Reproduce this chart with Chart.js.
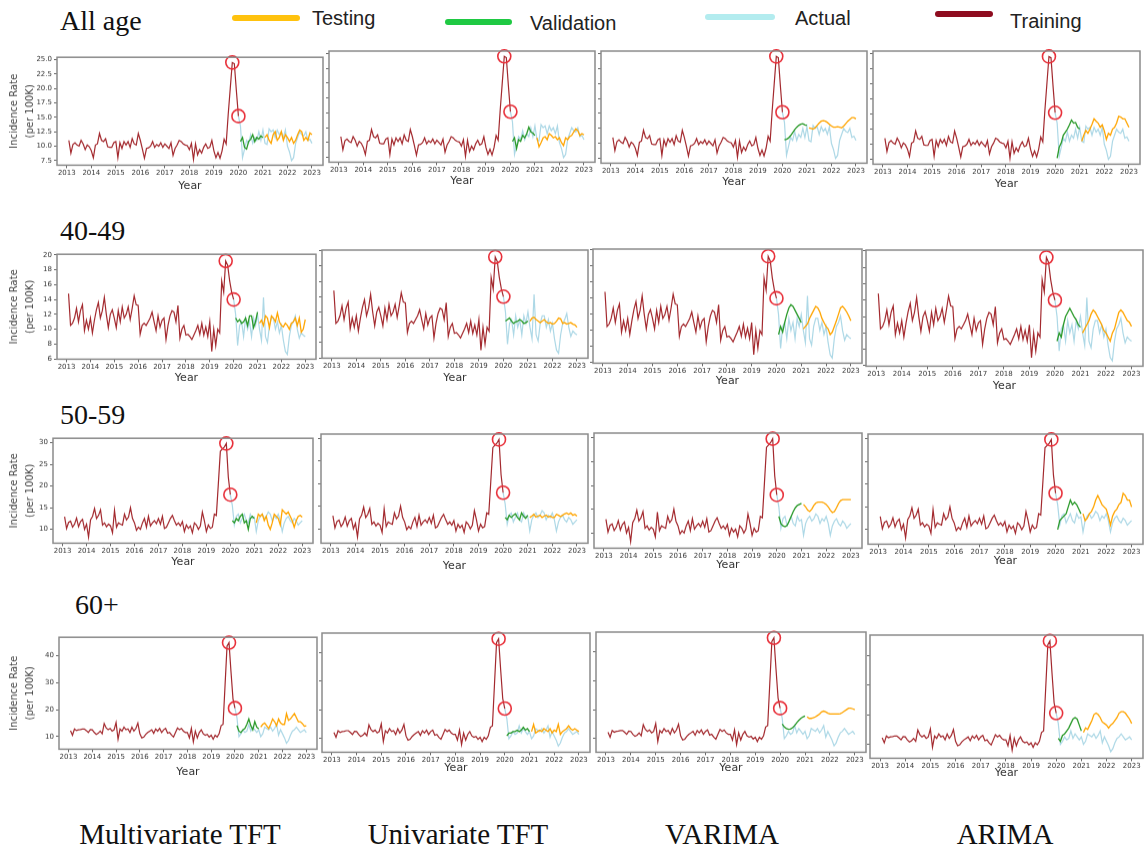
<!DOCTYPE html>
<html><head><meta charset="utf-8">
<script src="https://cdn.jsdelivr.net/npm/chart.js@4.4.1/dist/chart.umd.min.js"></script>
<style>
html,body{margin:0;padding:0;background:#fff;}
body{width:1148px;height:850px;position:relative;overflow:hidden;}
.lbl{position:absolute;font-family:"Liberation Serif","DejaVu Serif",serif;color:#111;white-space:nowrap;line-height:1;}
.leg-line{position:absolute;height:6px;border-radius:3px;}
.leg-txt{position:absolute;font-family:"Liberation Sans",Arial,sans-serif;font-size:20px;color:#222;white-space:nowrap;line-height:1;}
canvas{position:absolute;}
</style></head><body>
<script>
// ---------------- data ----------------
const yearTicks = [2013,2014,2015,2016,2017,2018,2019,2020,2021,2022,2023];
const yTicksAll = [7.5,10,12.5,15,17.5,20,22.5,25];
const yTicks40 = [6,8,10,12,14,16,18,20];
const yTicks50 = [10,15,20,25,30];
const yTicks60 = [10,20,30,40];
const ageGroups = ['All age','40-49','50-59','60+'];
const modelNames = ['Multivariate TFT','Univariate TFT','VARIMA','ARIMA'];
const legendLabels = ['Testing','Validation','Actual','Training'];

// monthly values; training Feb 2013 - Jan 2020, actual Jan 2020 - Jan 2023,
// validation Feb 2020 - Jan 2021, testing Feb 2021 - Jan 2023
const trainAll = [11.0,8.8,10.3,10.6,10.2,10.0,11.0,10.4,9.4,10.2,9.9,
 9.2,8.0,10.2,10.4,12.2,11.0,10.8,11.3,9.9,9.8,9.8,10.6,
 10.8,8.0,10.6,9.6,10.8,10.2,10.8,9.8,11.3,10.4,10.2,12.2,
 11.0,9.5,7.9,9.6,9.7,10.0,10.8,9.8,10.3,10.0,10.6,9.8,
 10.4,10.0,9.6,10.6,8.4,9.6,10.2,11.0,10.8,10.4,10.2,10.1,
 9.4,10.5,7.7,10.4,8.5,9.4,8.8,9.8,10.4,9.6,9.8,11.0,
 9.2,8.0,8.9,7.9,9.2,11.2,10.4,15.5,20.0,24.5,24.3,19.6,
 15.2];
const train40 = [14.8,10.5,10.8,11.5,12.8,11.0,12.5,13.3,9.8,11.2,10.0,
 11.5,9.5,11.2,12.6,13.6,11.5,12.5,14.3,12.0,10.2,12.0,12.6,
 11.5,10.2,12.5,11.0,13.0,11.5,12.0,13.0,11.3,12.8,14.5,13.3,
 13.2,9.3,10.5,10.8,10.5,11.0,11.5,12.3,11.0,9.8,11.8,10.3,
 11.2,11.5,8.6,10.5,11.8,12.5,12.3,11.0,13.2,8.8,10.0,10.5,
 9.2,9.3,9.0,8.6,9.2,9.8,10.5,9.3,10.8,9.2,10.3,9.0,
 11.0,7.0,10.0,7.8,10.0,9.5,16.5,15.0,19.2,18.6,16.5,15.0,
 14.0];
const train50 = [12.9,10.2,11.6,11.9,10.5,11.2,12.6,10.6,11.8,12.3,10.0,
 11.2,8.2,12.2,13.0,14.8,12.5,13.2,14.5,11.0,11.5,10.6,11.2,
 10.8,9.2,14.4,10.5,11.5,11.2,11.0,13.5,12.2,12.8,15.0,12.5,
 11.5,9.8,10.5,10.0,11.5,12.5,10.5,13.0,10.8,11.5,12.0,11.3,
 12.5,11.2,13.0,10.2,10.5,11.5,12.5,13.2,12.0,11.0,11.5,10.8,
 11.8,9.5,11.0,10.2,10.8,9.2,11.5,11.0,10.0,10.8,14.0,12.0,
 9.5,11.0,10.2,10.5,13.5,13.2,20.5,28.0,28.5,29.0,29.8,22.0,
 18.0];
const train60 = [12.2,10.5,12.8,12.2,12.5,12.6,12.8,12.8,12.2,11.5,12.6,
 12.5,11.5,10.8,11.2,12.0,11.0,14.8,13.2,12.5,13.0,12.0,12.5,
 15.2,9.0,12.8,12.0,13.5,12.5,12.8,11.5,13.5,12.0,13.0,15.0,
 11.0,9.5,9.8,10.8,11.5,12.0,12.5,11.2,12.8,12.0,13.0,11.5,
 12.5,13.0,11.2,11.5,10.5,9.8,11.5,13.2,12.5,13.0,12.0,11.5,
 11.5,9.5,13.0,8.0,12.0,9.5,11.5,12.5,11.0,10.5,10.8,9.8,
 10.5,9.0,10.5,9.8,11.0,14.0,14.5,29.0,43.5,44.8,34.0,24.0,
 20.5];

const actualAll = [15.2,13.5,8.0,9.5,11.0,10.5,12.0,10.5,11.5,11.0,12.5,11.0,12.8,
 10.5,10.3,13.0,12.5,12.8,11.5,12.8,12.0,12.5,11.5,12.8,10.0,
 9.0,7.5,8.0,10.5,11.5,12.5,12.0,11.8,12.5,11.0,11.2,10.5];
const actual40 = [14.0,12.0,7.8,10.5,11.0,9.0,11.5,10.0,11.0,9.0,11.5,10.5,12.0,
 10.0,8.5,14.3,9.0,8.2,10.5,11.5,11.5,10.0,11.0,9.5,10.5,
 8.5,7.0,6.6,9.0,10.5,11.0,11.8,10.0,8.8,9.5,9.2,9.0];
const actual50 = [18.0,15.5,11.0,13.0,13.5,11.5,12.5,13.5,12.0,11.5,13.5,12.5,12.8,
 9.5,12.0,13.0,13.5,12.5,13.0,14.0,13.5,12.0,13.0,12.5,13.5,
 12.0,9.5,11.5,12.5,13.0,12.0,11.5,12.5,12.0,11.0,11.5,12.0];
const actual60 = [20.5,17.0,10.0,11.0,12.5,11.5,12.0,14.5,12.0,13.5,12.5,11.5,12.5,
 10.0,11.0,13.5,13.0,12.5,13.5,12.0,13.0,14.5,10.5,12.5,11.0,
 9.5,7.5,8.5,10.5,12.0,12.5,13.5,12.5,11.5,12.0,12.5,11.5];

const valMTFT_All = [10.8,11.5,9.8,9.5,10.8,11.2,12.0,10.8,11.5,11.2,11.8,11.5];
const testMTFT_All = [11.5,12.0,11.0,10.5,12.0,12.5,11.0,11.5,12.5,11.0,12.0,11.5,10.8,11.5,10.5,11.0,12.0,12.8,12.5,11.0,11.5,11.0,12.3,12.0];
const valUTFT_All = [10.2,10.8,9.0,10.5,10.2,11.2,10.8,11.5,12.6,11.8,11.6,11.2];
const testUTFT_All = [10.8,9.3,10.0,10.8,11.0,10.5,11.5,11.2,10.8,11.0,10.5,10.8,10.0,9.5,10.8,10.5,11.0,11.2,11.8,12.3,12.0,11.2,11.5,11.3];
const valVARIMA_All = [10.6,10.7,10.9,11.3,11.8,12.3,12.7,13.0,13.2,13.3,13.1,13.0];
const testVARIMA_All = [12.6,12.5,12.4,12.6,13.0,13.4,13.7,13.8,13.7,13.5,13.2,12.9,12.7,12.7,12.8,12.7,12.6,12.9,13.3,13.7,14.0,14.3,14.3,14.1];
const valARIMA_All = [7.7,9.5,10.2,11.5,12.0,12.5,13.2,14.0,13.5,13.6,12.8,12.5];
const testARIMA_All = [10.5,11.5,12.3,11.8,12.5,13.3,14.2,13.8,13.5,12.8,13.2,12.2,10.8,11.8,11.5,12.5,12.8,13.5,14.6,14.5,14.2,14.2,13.5,12.8];

const valMTFT_40 = [11.5,11.0,11.3,10.8,11.0,11.5,10.5,11.8,11.8,10.2,11.0,12.3];
const testMTFT_40 = [10.8,11.2,10.5,11.8,11.5,10.2,11.8,11.5,11.0,12.2,11.0,10.5,10.3,10.8,10.5,10.0,10.8,11.0,11.5,10.5,11.5,9.6,10.0,11.3];
const valUTFT_40 = [10.8,11.0,11.2,10.8,10.5,10.7,10.8,11.0,10.8,10.5,10.6,10.8];
const testUTFT_40 = [10.8,11.2,11.3,11.0,10.8,10.6,10.8,11.0,10.7,10.5,10.6,10.4,10.5,10.8,11.2,11.1,10.5,10.6,10.4,10.5,10.6,10.4,10.3,10.0];
const valVARIMA_40 = [9.5,10.5,9.8,11.0,12.0,12.8,13.2,13.0,12.5,12.0,11.5,11.0];
const testVARIMA_40 = [10.2,10.5,10.8,11.5,12.0,12.5,13.0,12.8,12.3,11.5,11.0,10.5,10.2,9.5,9.8,10.5,11.2,12.0,12.8,13.0,12.7,12.3,11.8,11.2];
const valARIMA_40 = [9.0,10.0,9.5,11.0,12.0,12.5,13.0,12.5,12.0,11.6,11.0,10.7];
const testARIMA_40 = [10.0,10.5,11.0,11.5,12.3,12.8,12.5,12.0,11.5,11.0,10.3,10.0,9.5,9.0,10.0,10.5,11.5,12.5,12.8,12.5,12.0,11.5,11.3,10.8];

const valMTFT_50 = [12.0,11.5,12.5,12.0,13.0,13.5,11.5,12.0,10.0,12.5,13.0,12.5];
const testMTFT_50 = [11.5,13.5,13.0,13.5,12.0,13.0,11.0,10.0,11.5,13.5,13.0,12.5,11.0,14.5,14.0,13.5,14.0,13.0,12.0,10.5,12.0,13.0,13.2,12.8];
const valUTFT_50 = [12.5,12.0,13.0,12.5,13.0,13.3,12.5,12.0,13.5,12.8,12.3,13.0];
const testUTFT_50 = [12.5,12.8,13.2,12.6,12.8,13.0,12.5,12.8,13.0,12.6,12.8,12.5,12.5,13.2,13.0,12.7,13.0,13.3,13.5,13.2,13.5,13.0,13.2,12.8];
const valVARIMA_50 = [13.5,12.0,11.5,11.3,11.6,12.5,13.5,14.5,15.3,15.8,16.0,16.2];
const testVARIMA_50 = [16.0,15.5,14.8,14.5,15.0,15.8,16.3,16.5,16.5,16.5,16.3,16.0,15.5,14.8,14.3,14.5,15.3,16.2,16.8,17.0,17.0,17.0,17.0,17.0];
const valARIMA_50 = [10.0,12.0,12.5,13.0,13.5,15.0,16.5,15.5,16.0,15.5,14.5,13.5];
const testARIMA_50 = [13.5,12.0,12.5,13.5,14.0,15.0,16.5,17.5,16.5,15.5,15.0,14.5,13.0,11.0,13.0,14.0,14.5,15.5,16.0,18.0,17.5,16.5,16.5,15.0];

const valMTFT_60 = [14.0,12.0,11.5,12.5,13.0,14.5,16.5,14.0,12.5,15.5,13.5,12.8];
const testMTFT_60 = [13.5,14.5,15.0,14.0,13.0,14.5,16.5,15.5,14.0,16.5,15.0,14.5,14.5,18.5,16.0,16.5,17.5,18.5,17.0,15.5,15.5,14.8,13.8,14.0];
const valUTFT_60 = [11.0,12.0,12.0,12.5,12.5,13.0,12.5,13.0,14.0,13.0,13.5,12.5];
const testUTFT_60 = [12.5,15.0,12.0,12.5,13.0,12.5,13.5,13.0,12.5,13.5,12.0,13.0,12.5,15.0,11.5,12.5,13.0,13.5,14.5,13.5,13.0,13.5,13.0,12.5];
const valVARIMA_60 = [15.0,14.0,13.5,13.2,13.3,13.8,14.5,15.5,16.3,17.0,17.5,17.8];
const testVARIMA_60 = [17.5,17.0,17.0,17.2,17.5,18.0,18.5,19.2,19.5,19.2,18.8,18.5,18.5,18.5,18.5,18.5,18.6,19.0,19.5,20.0,20.5,20.5,20.3,20.0];
const valARIMA_60 = [12.0,11.0,13.0,13.5,14.5,15.5,17.0,18.5,19.0,18.5,16.5,14.5];
const testARIMA_60 = [14.0,15.5,15.0,16.5,18.0,20.0,20.5,20.0,19.0,17.5,17.0,16.5,15.5,16.5,17.0,18.0,19.0,20.5,21.0,21.0,20.5,19.5,18.5,17.0];

// ---------------- table built from the arrays ----------------
const rows = [
  {train: trainAll, actual: actualAll, yTicks: yTicksAll, dec: 1, yMin: 6.7, yMax: 25.4,
   val: [valMTFT_All, valUTFT_All, valVARIMA_All, valARIMA_All],
   test: [testMTFT_All, testUTFT_All, testVARIMA_All, testARIMA_All]},
  {train: train40, actual: actual40, yTicks: yTicks40, dec: 0, yMin: 5.95, yMax: 20.1,
   val: [valMTFT_40, valUTFT_40, valVARIMA_40, valARIMA_40],
   test: [testMTFT_40, testUTFT_40, testVARIMA_40, testARIMA_40]},
  {train: train50, actual: actual50, yTicks: yTicks50, dec: 0, yMin: 6.8, yMax: 31,
   val: [valMTFT_50, valUTFT_50, valVARIMA_50, valARIMA_50],
   test: [testMTFT_50, testUTFT_50, testVARIMA_50, testARIMA_50]},
  {train: train60, actual: actual60, yTicks: yTicks60, dec: 0, yMin: 5.3, yMax: 46.8,
   val: [valMTFT_60, valUTFT_60, valVARIMA_60, valARIMA_60],
   test: [testMTFT_60, testUTFT_60, testVARIMA_60, testARIMA_60]}
];
const TRAIN_START = 1, ACTUAL_START = 84, VAL_START = 85, TEST_START = 97;

// ---------------- layout (plot boxes: left, top, right, bottom, "Year" centre y) ----------------
const boxes = [
  [[57,53,323,165,186],[329,51,595,162,181],[601,51,867,163,182],[873,51,1140,164,184]],
  [[57,250,316,359,378],[322,250,588,358,378],[593,249,862,363,381],[866,250,1143,366,386]],
  [[53,434,313,543,562],[321,434,588,543,566],[594,433,862,548,565],[868,434,1143,544,561]],
  [[59,633,317,749,772],[322,633,590,752,768],[596,632,866,752,768],[870,635,1143,758,773]]
];
const rowLabelPos = [[60,22],[60,232],[60,416],[75,606]];
const modelLabelX = [180,458,722,1005];
const legendPos = [
  {x1:232,x2:300,ly:18,tx:312,ty:18,color:'#ffc20e'},
  {x1:445,x2:512,ly:22,tx:530,ty:23,color:'#1fc943'},
  {x1:705,x2:775,ly:17,tx:795,ty:18,color:'#b3ecef'},
  {x1:935,x2:993,ly:14,tx:1010,ty:21,color:'#8e0c1f'}
];

const C_TRAIN = '#a3292e', C_ACTUAL = '#add8e6', C_VAL = '#2a9a2a', C_TEST = '#ffa500', C_CIRCLE = '#e8303a';

function pts(vals, start) { return vals.map((v, k) => ({x: 2013 + (start + k) / 12, y: v})); }

// labels & legend (HTML text)
ageGroups.forEach((t, r) => {
  const d = document.createElement('div'); d.className = 'lbl'; d.textContent = t;
  d.style.fontSize = '28px'; d.style.left = rowLabelPos[r][0] + 'px'; d.style.top = (rowLabelPos[r][1] - 15) + 'px';
  document.body.appendChild(d);
});
modelNames.forEach((t, c) => {
  const d = document.createElement('div'); d.className = 'lbl'; d.textContent = t;
  d.style.fontSize = '29px'; d.style.left = modelLabelX[c] + 'px'; d.style.top = '834px';
  d.style.transform = 'translate(-50%,-50%)';
  document.body.appendChild(d);
});
legendLabels.forEach((t, i) => {
  const p = legendPos[i];
  const ln = document.createElement('div'); ln.className = 'leg-line';
  ln.style.left = p.x1 + 'px'; ln.style.width = (p.x2 - p.x1) + 'px'; ln.style.top = (p.ly - 3) + 'px';
  ln.style.background = p.color; document.body.appendChild(ln);
  const tx = document.createElement('div'); tx.className = 'leg-txt'; tx.textContent = t;
  tx.style.left = p.tx + 'px'; tx.style.top = (p.ty - 10) + 'px';
  document.body.appendChild(tx);
});

const framePlugin = {
  id: 'frame',
  afterDatasetsDraw(chart) {
    const {ctx, chartArea: a} = chart;
    ctx.save(); ctx.strokeStyle = '#8a8a8a'; ctx.lineWidth = 1.5;
    ctx.strokeRect(a.left, a.top, a.right - a.left, a.bottom - a.top);
    ctx.restore();
  }
};

const PAD_T = 2, PAD_R = 2;
rows.forEach((row, r) => {
  let peakIdx = 0;
  row.train.forEach((v, i) => { if (v > row.train[peakIdx]) peakIdx = i; });
  const lastIdx = row.train.length - 1;
  const circles = [
    {x: 2013 + (TRAIN_START + peakIdx) / 12, y: row.train[peakIdx]},
    {x: 2013 + (TRAIN_START + lastIdx) / 12, y: row.train[lastIdx]}
  ];
  for (let c = 0; c < 4; c++) {
    const [l, t, rr, b, yearY] = boxes[r][c];
    const yw = c === 0 ? l : 5;
    const xh = (yearY - b) + 10.6;
    const W = (rr - l) + yw + PAD_R, H = PAD_T + (b - t) + xh;
    const cv = document.createElement('canvas');
    cv.width = W; cv.height = H;
    cv.style.left = (l - yw) + 'px'; cv.style.top = (t - PAD_T) + 'px';
    cv.style.width = W + 'px'; cv.style.height = H + 'px';
    document.body.appendChild(cv);
    const showY = c === 0;
    new Chart(cv.getContext('2d'), {
      type: 'line',
      data: {
        datasets: [
          {label: 'Circles', data: circles, showLine: false, pointRadius: 6.5, pointStyle: 'circle',
           pointBorderColor: C_CIRCLE, pointBackgroundColor: 'rgba(0,0,0,0)', pointBorderWidth: 1.6, clip: false, order: 0},
          {label: 'Testing', data: pts(row.test[c], TEST_START), borderColor: C_TEST, borderWidth: 1.3, order: 1},
          {label: 'Validation', data: pts(row.val[c], VAL_START), borderColor: C_VAL, borderWidth: 1.3, order: 2},
          {label: 'Training', data: pts(row.train, TRAIN_START), borderColor: C_TRAIN, borderWidth: 1.2, order: 3},
          {label: 'Actual', data: pts(row.actual, ACTUAL_START), borderColor: C_ACTUAL, borderWidth: 1.2, order: 4}
        ]
      },
      options: {
        responsive: false, animation: false, devicePixelRatio: 1,
        layout: {padding: {left: 0, top: PAD_T, right: PAD_R, bottom: 0}, autoPadding: false},
        elements: {point: {radius: 0}, line: {tension: 0, fill: false}},
        plugins: {legend: {display: false}, tooltip: {enabled: false}},
        scales: {
          x: {
            type: 'linear', min: 2012.6, max: 2023.45,
            afterBuildTicks: s => { s.ticks = yearTicks.map(v => ({value: v})); },
            ticks: {autoSkip: false, maxRotation: 0, minRotation: 0, padding: 1,
                    font: {family: 'DejaVu Sans', size: 7}, color: '#333', callback: v => String(v)},
            grid: {drawOnChartArea: false, drawTicks: true, tickLength: 3, tickColor: '#666'},
            border: {display: false},
            title: {display: true, text: 'Year', font: {family: 'DejaVu Sans', size: 11}, color: '#333', padding: {top: 0, bottom: 4}},
            afterFit: s => { s.height = xh; }
          },
          y: {
            type: 'linear', min: row.yMin, max: row.yMax,
            afterBuildTicks: s => { s.ticks = row.yTicks.map(v => ({value: v})); },
            ticks: {display: showY, padding: 2, font: {family: 'DejaVu Sans', size: 7}, color: '#333',
                    callback: v => Number(v).toFixed(row.dec)},
            grid: {drawOnChartArea: false, drawTicks: true, tickLength: 3, tickColor: '#666'},
            border: {display: false},
            title: {display: showY, text: ['Incidence Rate', '(per 100K)'],
                    font: {family: 'DejaVu Sans', size: 10, lineHeight: 1.6}, color: '#444', padding: {top: 6, bottom: 0}},
            afterFit: s => { s.width = yw; }
          }
        }
      },
      plugins: [framePlugin]
    });
  }
});
</script>
</body></html>
